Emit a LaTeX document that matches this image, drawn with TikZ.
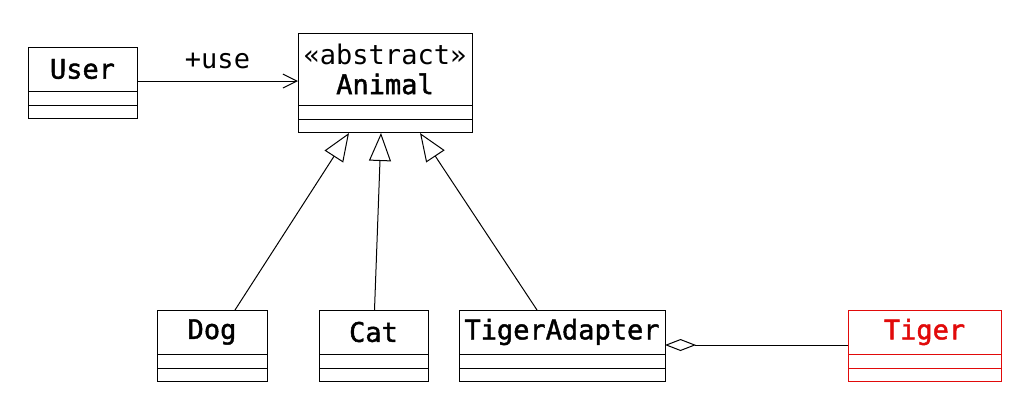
\documentclass[tikz,border=0pt]{standalone}
\usepackage{fontspec}
\setmonofont{DejaVu Sans Mono}
\newfontfamily\classfont{DejaVu Sans Mono}[FakeBold=1.6]
\usetikzlibrary{positioning,arrows.meta}

\definecolor{adapteered}{RGB}{225,10,10}

\tikzset{
  classname/.style={draw, anchor=north west, inner sep=0pt, outer sep=0pt, align=center,
    font=\fontsize{13.5}{15}\selectfont\classfont, line width=0.5pt},
  classpart/.style={draw, inner sep=0pt, outer sep=0pt, line width=0.5pt},
  uses/.style={-{Straight Barb[length=7pt,width=7pt]}, line width=0.5pt},
  inherits/.style={-{Triangle[open,length=14pt,width=11pt]}, line width=0.5pt},
  aggregates/.style={{Diamond[open,length=15.5pt,width=6pt]}-, line width=0.5pt},
  assoclabel/.style={font=\fontsize{13.5}{15}\selectfont\ttfamily, inner sep=2pt}
}

% class with two empty compartments: [colour]{name}{top left}{width}{height}{text}
\newcommand{\classbox}[6][black]{%
  \node[classname, draw=#1, text=#1, minimum width=#4, minimum height=#5] (#2) at (#3) {#6};
  \node[classpart, draw=#1, minimum width=#4, minimum height=7pt, below=0pt of #2] (#2a) {};
  \node[classpart, draw=#1, minimum width=#4, minimum height=6.5pt, below=0pt of #2a] (#2b) {};
}

\begin{document}
\begin{tikzpicture}[x=0.5pt,y=-0.5pt]
  \useasboundingbox (0,0) rectangle (1022,404);

  \classbox{user}{28,47}{54.5pt}{22pt}{User}
  \classbox{animal}{298,33}{87pt}{36pt}{{\ttfamily «abstract»}\\Animal}
  \classbox{dog}{157,310}{55pt}{22pt}{Dog}
  \classbox{cat}{319,310}{54.5pt}{22pt}{Cat}
  \classbox{adapter}{459,310}{103pt}{22pt}{TigerAdapter}
  \classbox[adapteered]{tiger}{848,310}{76.5pt}{22pt}{Tiger}

  \draw[uses] ([yshift=-6pt]user.east) -- node[assoclabel, above=4pt] {+use} ([yshift=-6pt]animal.west);

  \begin{scope}[inherits]
    \draw ([xshift=11.5pt]dog.north) -- ([xshift=-18pt,yshift=-0.5pt]animalb.south);
    \draw ([xshift=0.5pt]cat.north) -- ([xshift=-2pt,yshift=-0.5pt]animalb.south);
    \draw ([xshift=-12.5pt]adapter.north) -- ([xshift=17.5pt,yshift=-0.5pt]animalb.south);
  \end{scope}

  \draw[aggregates] ([yshift=-6.5pt]adapter.east) -- ([yshift=-6.5pt]tiger.west);
\end{tikzpicture}
\end{document}
